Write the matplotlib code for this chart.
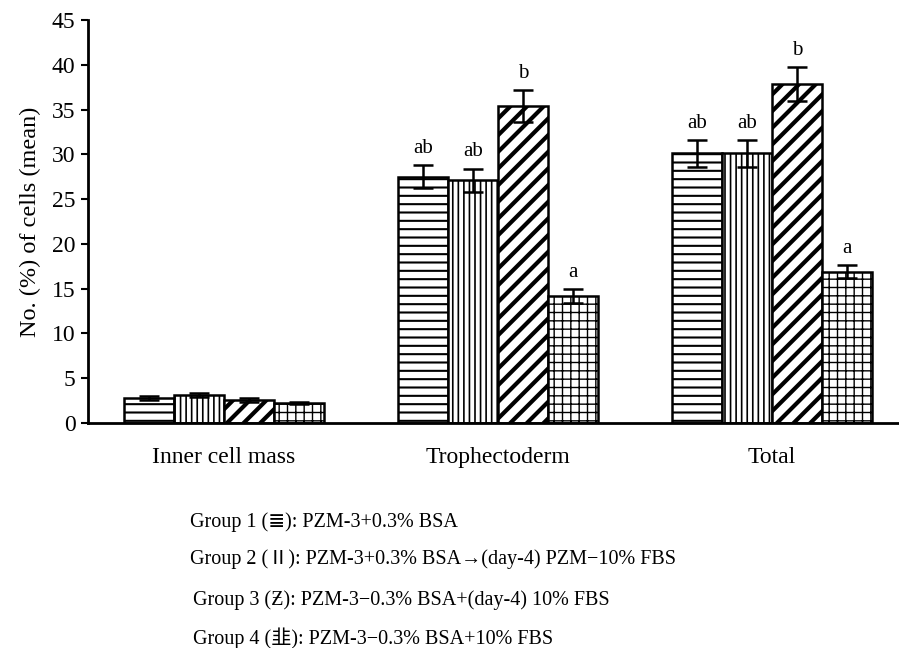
import matplotlib
matplotlib.use("Agg")
import matplotlib.pyplot as plt
import numpy as np

categories = ["Inner cell mass", "Trophectoderm", "Total"]
group_names = ["Group 1", "Group 2", "Group 3", "Group 4"]
g1 = [2.8, 27.5, 30.1]
g2 = [3.1, 27.1, 30.1]
g3 = [2.6, 35.4, 37.8]
g4 = [2.2, 14.2, 16.9]
e1 = [0.2, 1.3, 1.5]
e2 = [0.2, 1.3, 1.5]
e3 = [0.2, 1.8, 1.9]
e4 = [0.1, 0.8, 0.7]
letters = [["", "", "", ""], ["ab", "ab", "b", "a"], ["ab", "ab", "b", "a"]]
yticks = [0, 5, 10, 15, 20, 25, 30, 35, 40, 45]
legend_lines = [
    "Group 1 (\u2263): PZM-3+0.3% BSA",
    "Group 2 (\u2161): PZM-3+0.3% BSA\u2192(day-4) PZM\u221210% FBS",
    "Group 3 (\u01b5): PZM-3\u22120.3% BSA+(day-4) 10% FBS",
    "Group 4 (\u97ed): PZM-3\u22120.3% BSA+10% FBS",
]

serif = ["Liberation Serif", "Noto Sans CJK SC", "DejaVu Sans"]
plt.rcParams['font.family'] = serif
plt.rcParams['hatch.linewidth'] = 1.5

fig = plt.figure(figsize=(8.99, 6.48), dpi=100)
ax = fig.add_axes([88/899, 1-423/648, 1-88/899, (423-20)/648])

vals = [g1, g2, g3, g4]
errs = [e1, e2, e3, e4]
hatches = ['--', '|||', '//', '++']
hlw = [1.5, 1.2, 3.0, 1.0]
x = np.arange(len(categories))
w = 0.1825
for i in range(4):
    pos = x + (i - 1.5) * w
    bars = ax.bar(pos, vals[i], width=w, color='white', edgecolor='black',
                  linewidth=1.8, hatch=hatches[i], zorder=2)
    for b in bars:
        if hasattr(b, 'set_hatch_linewidth'):
            b.set_hatch_linewidth(hlw[i])
    ax.errorbar(pos, vals[i], yerr=errs[i], fmt='none', ecolor='black',
                elinewidth=1.8, capsize=7, capthick=1.8, zorder=3)
    for j in range(len(categories)):
        t = letters[j][i]
        if t:
            ax.text(pos[j], vals[i][j] + errs[i][j] + 0.8, t, ha='center',
                    va='bottom', fontsize=15)

ax.set_xlim(-0.496, 2.464)
ax.set_ylim(0, 45)
ax.set_yticks(yticks)
ax.set_xticks(x)
ax.set_xticklabels(categories, fontsize=17)
ax.tick_params(axis='x', length=0, pad=17)
ax.tick_params(axis='y', direction='out', length=5, width=1.5, labelsize=17, pad=4)
for s in ['top', 'right']:
    ax.spines[s].set_visible(False)
for s in ['left', 'bottom']:
    ax.spines[s].set_linewidth(2)
ax.set_ylabel("No. (%) of cells (mean)", fontsize=17.5, labelpad=8)

ys = [522, 559, 600, 638]
xs = [190, 190, 193, 193]
for t, yy, xx in zip(legend_lines, ys, xs):
    fig.text(xx/899, 1-yy/648, t, fontsize=14.5, va='center', ha='left')

fig.savefig("out.png", dpi=100)
